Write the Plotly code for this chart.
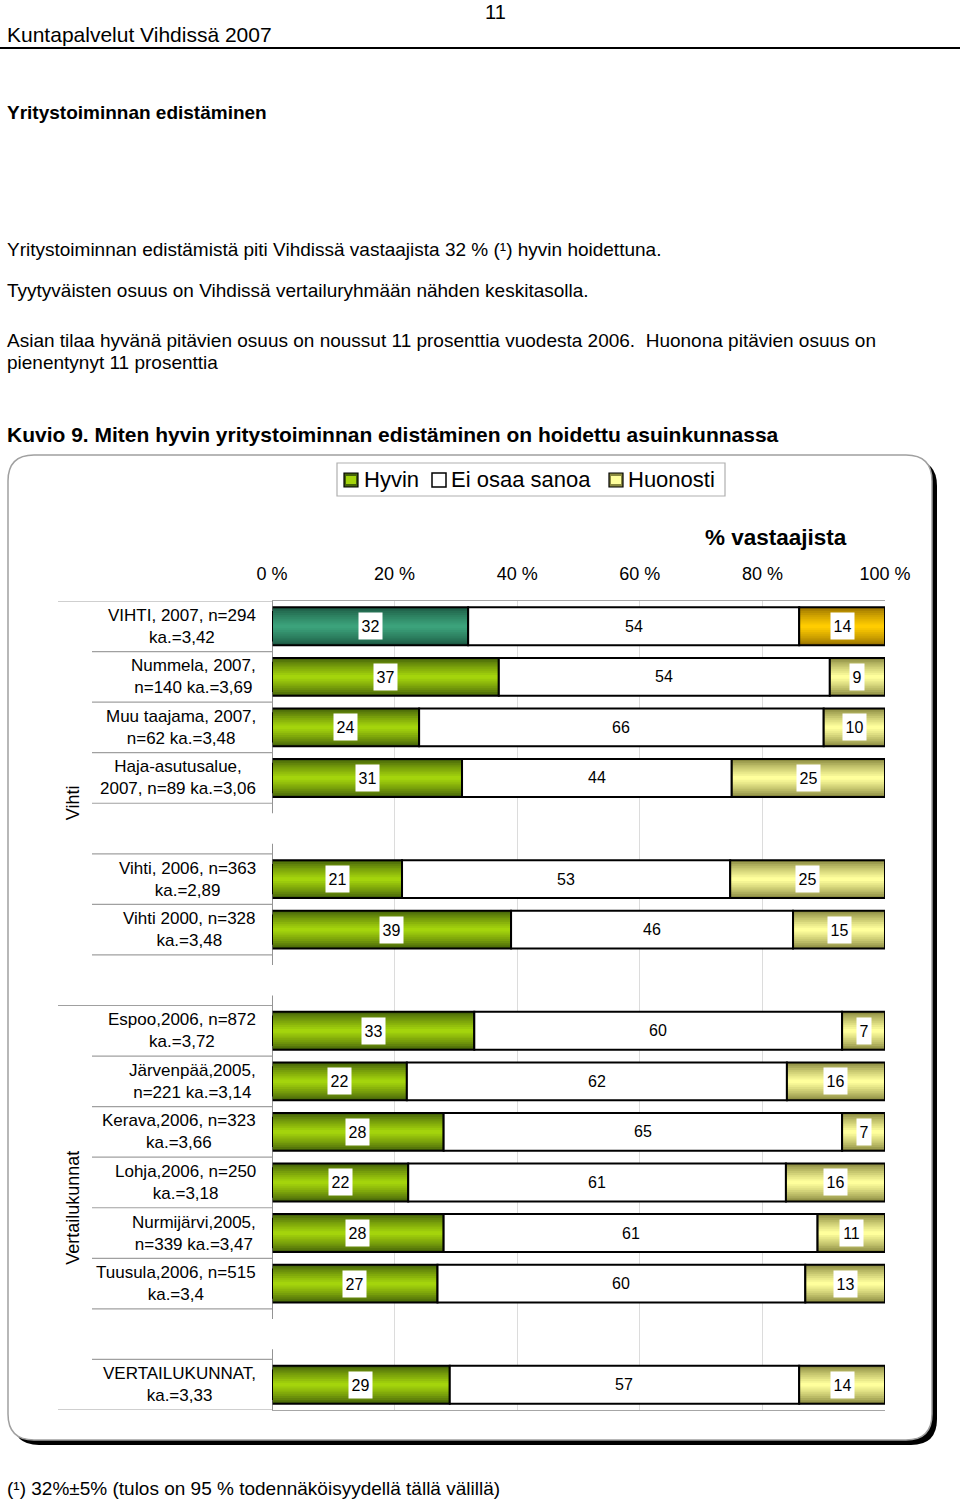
import plotly.graph_objects as go

# ---------------- data ----------------
categories = [
    "VIHTI, 2007, n=294<br>ka.=3,42",
    "Nummela, 2007,<br>n=140 ka.=3,69",
    "Muu taajama, 2007,<br>n=62 ka.=3,48",
    "Haja-asutusalue,<br>2007, n=89 ka.=3,06",
    "",
    "Vihti, 2006, n=363<br>ka.=2,89",
    "Vihti 2000, n=328<br>ka.=3,48",
    "",
    "Espoo,2006, n=872<br>ka.=3,72",
    "Järvenpää,2005,<br>n=221 ka.=3,14",
    "Kerava,2006, n=323<br>ka.=3,66",
    "Lohja,2006, n=250<br>ka.=3,18",
    "Nurmijärvi,2005,<br>n=339 ka.=3,47",
    "Tuusula,2006, n=515<br>ka.=3,4",
    "",
    "VERTAILUKUNNAT,<br>ka.=3,33",
]
hyvin = [32, 37, 24, 31, None, 21, 39, None, 33, 22, 28, 22, 28, 27, None, 29]
ei_osaa = [54, 54, 66, 44, None, 53, 46, None, 60, 62, 65, 61, 61, 60, None, 57]
huonosti = [14, 9, 10, 25, None, 25, 15, None, 7, 16, 7, 16, 11, 13, None, 14]
series_names = ["Hyvin", "Ei osaa sanoa", "Huonosti"]
group_names = ["Vihti", "Vertailukunnat"]
group_rows = [(0, 7), (8, 15)]
tick_vals = [0, 20, 40, 60, 80, 100]
tick_text = ["0 %", "20 %", "40 %", "60 %", "80 %", "100 %"]

W, H = 960, 1502
FONT = "Arial, Liberation Sans, sans-serif"


def px(x):
    return x / W


def py(y):
    return 1 - y / H


def hex2rgb(h):
    h = h.lstrip("#")
    return tuple(int(h[i:i + 2], 16) for i in (0, 2, 4))


def mix(c1, c2, t):
    a, b = hex2rgb(c1), hex2rgb(c2)
    return "rgb(%d,%d,%d)" % tuple(round(a[i] + (b[i] - a[i]) * t) for i in range(3))


# palettes (edge, centre)
PAL = {
    "green": ("#45620a", "#a4d40c"),
    "teal": ("#1c5a43", "#3ca27b"),
    "gold": ("#9a7300", "#ffcc00"),
    "pale": ("#8a8a40", "#ffff9c"),
}

n = len(categories)
rows = [i for i in range(n) if hyvin[i] is not None]
tot = {i: hyvin[i] + ei_osaa[i] + huonosti[i] for i in rows}
h_val = [hyvin[i] / tot[i] * 100 for i in rows]
e_val = [ei_osaa[i] / tot[i] * 100 for i in rows]
u_val = [huonosti[i] / tot[i] * 100 for i in rows]
h_base = [0 for _ in rows]
e_base = h_val
u_base = [a + b for a, b in zip(h_val, e_val)]

BW = 0.75
NL = 10
fig = go.Figure()

segments = [
    (h_val, h_base, ["teal" if i == 0 else "green" for i in rows]),
    (e_val, e_base, None),
    (u_val, u_base, ["gold" if i == 0 else "pale" for i in rows]),
]

for val, base, pal in segments:
    if pal is None:
        fig.add_trace(go.Bar(orientation="h", y=rows, x=val, base=base, width=BW,
                             marker=dict(color="white", line=dict(width=0)),
                             showlegend=False, hoverinfo="skip"))
    else:
        for k in range(NL):
            w = BW * (1 - k / NL)
            t = k / (NL - 1)
            cols = [mix(PAL[p][0], PAL[p][1], t ** 0.8) for p in pal]
            fig.add_trace(go.Bar(orientation="h", y=rows, x=val, base=base, width=w,
                                 marker=dict(color=cols, line=dict(width=0)),
                                 showlegend=False, hoverinfo="skip"))
    # outline
    fig.add_trace(go.Bar(orientation="h", y=rows, x=val, base=base, width=BW,
                         marker=dict(color="rgba(0,0,0,0)", line=dict(color="black", width=2)),
                         showlegend=False, hoverinfo="skip"))

annotations = []


def boxed(xv, yv, txt):
    return dict(x=xv, y=yv, xref="x", yref="y", text=txt, showarrow=False,
                font=dict(size=16, color="black", family=FONT),
                bgcolor="white", borderpad=0, width=9 * len(txt) + 5, height=26)


# value labels
for j, i in enumerate(rows):
    annotations.append(boxed(h_base[j] + h_val[j] / 2, i, str(hyvin[i])))
    annotations.append(dict(x=e_base[j] + e_val[j] / 2, y=i, xref="x", yref="y", text=str(ei_osaa[i]),
                            showarrow=False, font=dict(size=16, color="black", family=FONT)))
    annotations.append(boxed(u_base[j] + u_val[j] / 2, i, str(huonosti[i])))

# category labels
for i, c in enumerate(categories):
    if c:
        annotations.append(dict(x=px(258), y=i, xref="paper", yref="y", text=c, showarrow=False,
                                xanchor="right", yanchor="middle", align="center",
                                font=dict(size=17, color="black", family=FONT)))
# group labels
for g, (a, b) in zip(group_names, group_rows):
    annotations.append(dict(x=px(73), y=(a + b) / 2, xref="paper", yref="y", text=g, showarrow=False,
                            textangle=-90, xanchor="center", yanchor="middle",
                            font=dict(size=18, color="black", family=FONT)))

shapes = []
# separator lines of category labels
long_b = {g[0] for g in group_rows} | {n}
for b in range(n + 1):
    x0 = 58 if b in long_b else 92
    shapes.append(dict(type="line", xref="paper", yref="y", x0=px(x0), x1=px(272),
                       y0=b - 0.5, y1=b - 0.5, line=dict(color="#a0a0a0", width=1.2)))
    shapes.append(dict(type="line", xref="x", yref="y", x0=0, x1=0,
                       y0=b - 0.5 - 0.2, y1=b - 0.5 + 0.2, line=dict(color="#707070", width=1.5)))


def rrect(x0, y0, x1, y1, r):
    P = lambda x, y: "%.6f,%.6f" % (px(x), py(y))
    return ("M " + P(x0 + r, y0) + " L " + P(x1 - r, y0) + " Q " + P(x1, y0) + " " + P(x1, y0 + r) +
            " L " + P(x1, y1 - r) + " Q " + P(x1, y1) + " " + P(x1 - r, y1) +
            " L " + P(x0 + r, y1) + " Q " + P(x0, y1) + " " + P(x0, y1 - r) +
            " L " + P(x0, y0 + r) + " Q " + P(x0, y0) + " " + P(x0 + r, y0) + " Z")


# chart frame with shadow
shapes.append(dict(type="path", xref="paper", yref="paper", path=rrect(13, 460, 937, 1445, 26),
                   fillcolor="black", line=dict(width=0), layer="below"))
shapes.append(dict(type="path", xref="paper", yref="paper", path=rrect(8, 455, 932, 1440, 26),
                   fillcolor="white", line=dict(color="#a0a0a0", width=1.5), layer="below"))
# header rule
shapes.append(dict(type="line", xref="paper", yref="paper", x0=0, x1=1, y0=py(48), y1=py(48),
                   line=dict(color="black", width=2)))

# legend (manual)
shapes.append(dict(type="rect", xref="paper", yref="paper", x0=px(337), x1=px(725), y0=py(463), y1=py(496),
                   line=dict(color="#b0b0b0", width=1.2), fillcolor="white"))
leg_items = [(344, 364, "green"), (432, 451, None), (609, 628, "pale")]
for (sx, tx, pal), name in zip(leg_items, series_names):
    if pal:
        shapes.append(dict(type="rect", xref="paper", yref="paper", x0=px(sx), x1=px(sx + 14),
                           y0=py(473), y1=py(487), fillcolor=PAL[pal][0], line=dict(color="black", width=1.2)))
        shapes.append(dict(type="rect", xref="paper", yref="paper", x0=px(sx + 2), x1=px(sx + 12),
                           y0=py(476), y1=py(484), fillcolor=PAL[pal][1], line=dict(width=0)))
    else:
        shapes.append(dict(type="rect", xref="paper", yref="paper", x0=px(sx), x1=px(sx + 14),
                           y0=py(473), y1=py(487), fillcolor="white", line=dict(color="black", width=1.5)))
    annotations.append(dict(x=px(tx - 2), y=py(480), xref="paper", yref="paper", text=name, showarrow=False,
                            xanchor="left", yanchor="middle", font=dict(size=22, color="black", family=FONT)))

# axis title
annotations.append(dict(x=px(849), y=py(538), xref="paper", yref="paper", text="<b>% vastaajista</b>",
                        showarrow=False, xanchor="right", yanchor="middle",
                        font=dict(size=22.5, color="black", family=FONT)))

# page texts
page_texts = [
    (495, 12, "11", 20, "center", False),
    (5, 35, "Kuntapalvelut Vihdissä 2007", 21, "left", False),
    (5, 113, "Yritystoiminnan edistäminen", 19, "left", True),
    (5, 250, "Yritystoiminnan edistämistä piti Vihdissä vastaajista 32 % (¹) hyvin hoidettuna.", 19, "left", False),
    (5, 290, "Tyytyväisten osuus on Vihdissä vertailuryhmään nähden keskitasolla.", 19, "left", False),
    (5, 340, "Asian tilaa hyvänä pitävien osuus on noussut 11 prosenttia vuodesta 2006.  Huonona pitävien osuus on", 19, "left", False),
    (5, 363, "pienentynyt 11 prosenttia", 19, "left", False),
    (5, 434, "Kuvio 9. Miten hyvin yritystoiminnan edistäminen on hoidettu asuinkunnassa", 21, "left", True),
    (5, 1488, "(¹) 32%±5% (tulos on 95 % todennäköisyydellä tällä välillä)", 19, "left", False),
]
for x, y, t, s, anc, bold in page_texts:
    annotations.append(dict(x=px(x), y=py(y), xref="paper", yref="paper",
                            text=("<b>%s</b>" % t) if bold else t, showarrow=False,
                            xanchor=anc, yanchor="middle", font=dict(size=s, color="black", family=FONT)))

fig.update_layout(
    width=W, height=H, margin=dict(l=0, r=0, t=0, b=0, autoexpand=False), autosize=False,
    paper_bgcolor="white", plot_bgcolor="rgba(0,0,0,0)",
    barmode="overlay", showlegend=False,
    font=dict(family=FONT, color="black"),
    xaxis=dict(domain=[px(272), px(885)], range=[0, 100], side="top",
               tickvals=tick_vals, ticktext=tick_text, tickfont=dict(size=18, color="black", family=FONT),
               showgrid=True, gridcolor="#dcdcdc", gridwidth=1, zeroline=False,
               showline=True, mirror=True, linecolor="#a6a6a6", linewidth=1.2,
               ticks="", ticklabelstandoff=13, fixedrange=True, automargin=False),
    yaxis=dict(domain=[py(1410), py(601)], range=[n - 0.5, -0.5], showticklabels=False,
               showgrid=False, zeroline=False, showline=False, ticks="", fixedrange=True, automargin=False),
    shapes=shapes, annotations=annotations,
)

post = ("document.body.style.margin='0';document.body.style.padding='0';"
        "document.documentElement.style.overflow='hidden';document.body.style.overflow='hidden';"
        "var gd=document.getElementById('{plot_id}');"
        "Plotly.relayout(gd,{width:960,height:1502});")

fig.write_html("out.html", config={"responsive": False, "displayModeBar": False}, post_script=post)
